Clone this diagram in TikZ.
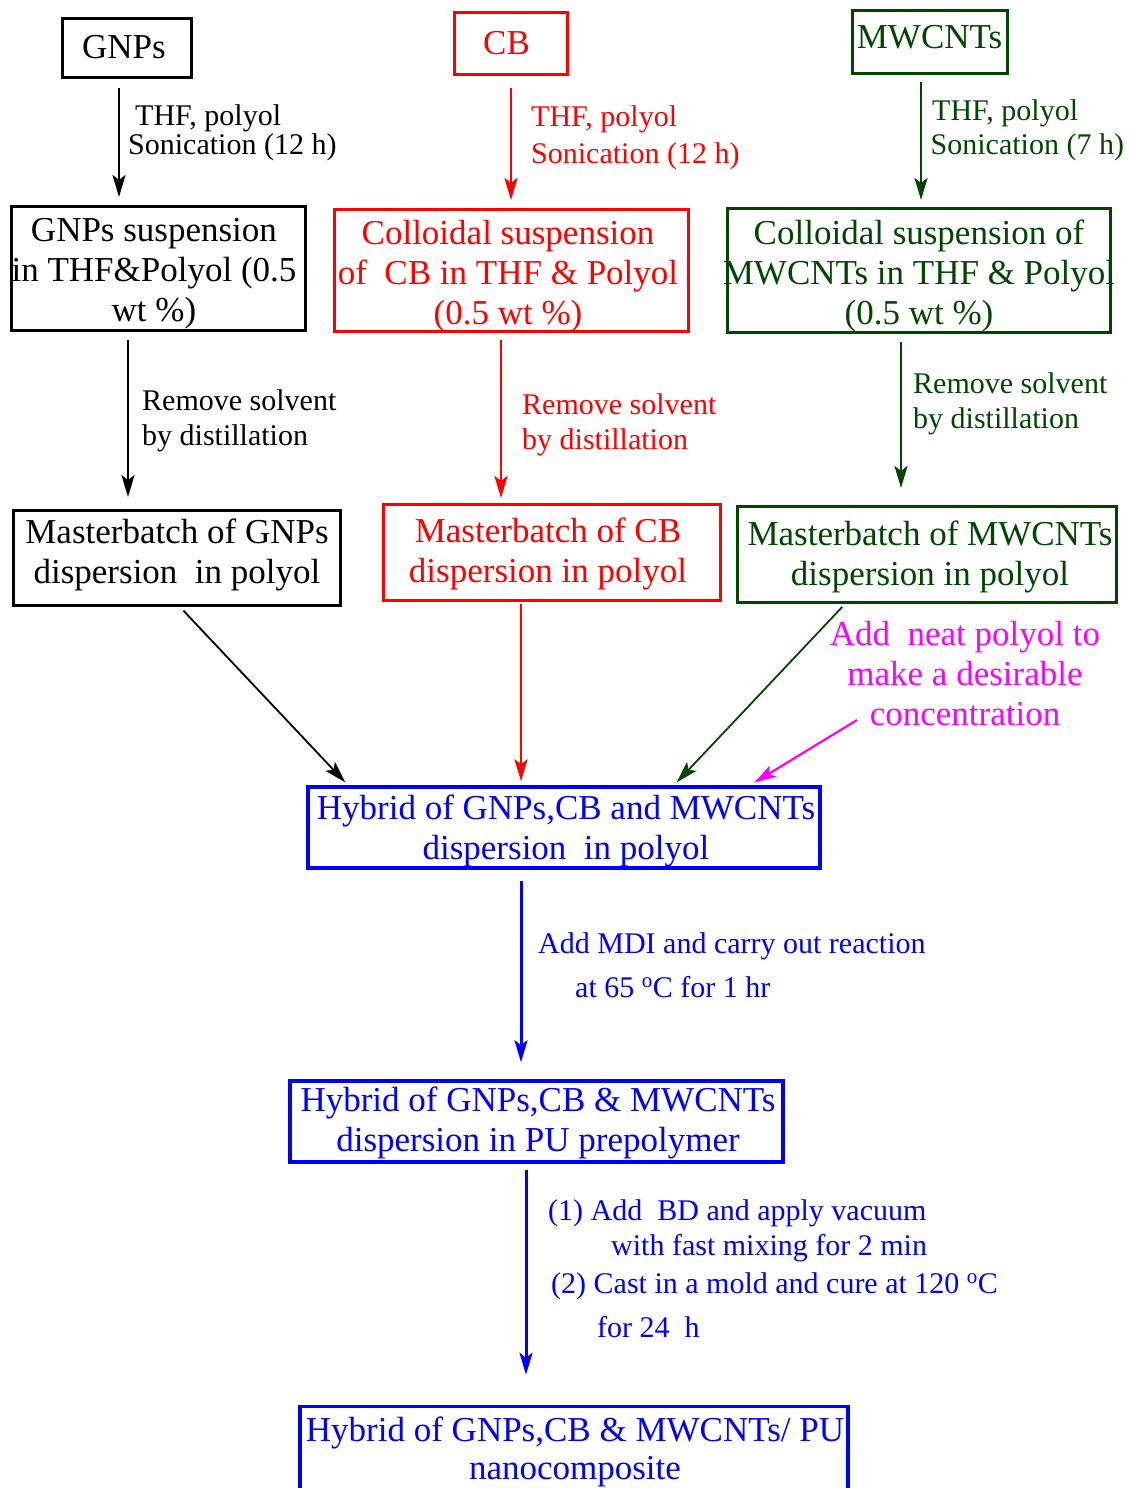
\documentclass[tikz,border=0pt]{standalone}
\usepackage{fontspec}
\setmainfont{Liberation Serif}
\usetikzlibrary{arrows.meta}
\definecolor{dgreen}{RGB}{0,70,0}
\definecolor{pmag}{RGB}{255,0,255}
\definecolor{pblue}{RGB}{0,0,255}
\definecolor{pred}{RGB}{255,0,0}
\begin{document}
\begin{tikzpicture}[x=1pt,y=-1pt,
  boxframe/.style={draw, line width=3pt, inner sep=0pt},
  bluebox/.style={boxframe, pblue, line width=3.5pt},
  boxtext/.style={inner sep=0pt, align=center, font=\fontsize{35}{40}\selectfont},
  lbl/.style={anchor=base west, inner sep=0pt, font=\fontsize{30}{35}\selectfont},
  arr/.style={-{Stealth[length=22pt,width=13pt,inset=5pt]}, line width=2.5pt},
  darr/.style={-{Stealth[length=22pt,width=13pt,inset=5pt]}, line width=1.8pt}]
\useasboundingbox (0,0) rectangle (1133,1488);
\clip (0,0) rectangle (1133,1488);

% ---- row 1
\node[boxframe, minimum width=129pt, minimum height=59pt] (gnp) at (127,48) {};
\node[boxtext] (gnpT) at (124,46.75) {GNPs};
\node[boxframe, pred, minimum width=113pt, minimum height=62pt] (cb) at (511,43.5) {};
\node[boxtext, pred] (cbT) at (506.5,43.5) {CB};
\node[boxframe, dgreen, minimum width=155pt, minimum height=63pt] (mw) at (930,42) {};
\node[boxtext, dgreen] (mwT) at (929.5,36.7) {MWCNTs};

% ---- row 2
\node[boxframe, minimum width=294pt, minimum height=124pt] (gsus) at (158.5,268.5) {};
\node[boxtext] (gsusT) at (154,274) {GNPs suspension\\in THF\&Polyol (0.5\\wt \%)};
\node[boxframe, pred, minimum width=354pt, minimum height=122pt] (csus) at (511.5,270.5) {};
\node[boxtext, pred] (csusT) at (508,276) {Colloidal suspension\\of\ \ CB in THF \& Polyol\\(0.5 wt \%)};
\node[boxframe, dgreen, minimum width=383pt, minimum height=124pt] (msus) at (919,270.5) {};
\node[boxtext, dgreen] (msusT) at (919,276) {Colloidal suspension of\\MWCNTs in THF \& Polyol\\(0.5 wt \%)};

% ---- row 3
\node[boxframe, minimum width=327pt, minimum height=95pt] (gmb) at (177,558) {};
\node[boxtext] (gmbT) at (177,555) {Masterbatch of GNPs\\dispersion\ \ in polyol};
\node[boxframe, pred, minimum width=337pt, minimum height=96pt] (cmb) at (552,552.5) {};
\node[boxtext, pred] (cmbT) at (548,554) {Masterbatch of CB\\dispersion in polyol};
\node[boxframe, dgreen, minimum width=379pt, minimum height=96pt] (mmb) at (927,554.5) {};
\node[boxtext, dgreen] (mmbT) at (930,557) {Masterbatch of MWCNTs\\dispersion in polyol};

\node[boxtext, pmag] (mtxt) at (965,674) {Add\ \ neat polyol to\\make a desirable\\concentration};

% ---- lower boxes
\node[bluebox, minimum width=512pt, minimum height=81pt] (hyb) at (564,827.5) {};
\node[boxtext, pblue] (hybT) at (566,830.5) {Hybrid of GNPs,CB and MWCNTs\\dispersion\ \ in polyol};
\node[bluebox, minimum width=493pt, minimum height=81pt] (pre) at (536.5,1121.5) {};
\node[boxtext, pblue] (preT) at (538,1122.5) {Hybrid of GNPs,CB \& MWCNTs\\dispersion in PU prepolymer};
\node[bluebox, minimum width=548pt, minimum height=114pt] (fin) at (574,1463.5) {};
\node[boxtext, pblue, font=\fontsize{35}{38}\selectfont] (finT) at (575,1452) {Hybrid of GNPs,CB \& MWCNTs/ PU\\nanocomposite};

% ---- connector columns
\coordinate (xa) at (119,0);
\coordinate (xb) at (511,0);
\coordinate (xc) at (921,0);
\coordinate (xd) at (128,0);
\coordinate (xe) at (501,0);
\coordinate (xf) at (901,0);
\coordinate (xg1) at (180,0);
\coordinate (xg2) at (348,0);
\coordinate (xh) at (521,0);
\coordinate (xi1) at (845,0);
\coordinate (xi2) at (674,0);
\coordinate (xj) at (750,0);
\coordinate (mstart) at (857,720);
\coordinate (xk) at (521,0);
\coordinate (xl) at (526,0);

% ---- connectors
\draw[arr, shorten <=9pt, shorten >=8pt] (gnp.south -| xa) -- (gsus.north -| xa);
\draw[arr, pred, line width=2.8pt, shorten <=12pt, shorten >=8pt] (cb.south -| xb) -- (csus.north -| xb);
\draw[arr, dgreen, line width=2.8pt, shorten <=7pt, shorten >=7pt] (mw.south -| xc) -- (msus.north -| xc);
\draw[arr, shorten <=8pt, shorten >=12pt] (gsus.south -| xd) -- (gmb.north -| xd);
\draw[arr, pred, line width=2.8pt, shorten <=7pt, shorten >=5pt] (csus.south -| xe) -- (cmb.north -| xe);
\draw[arr, dgreen, line width=2.8pt, shorten <=8pt, shorten >=17pt] (msus.south -| xf) -- (mmb.north -| xf);
\draw[darr, shorten <=5pt, shorten >=4pt] (gmb.south -| xg1) -- (hyb.north -| xg2);
\draw[arr, pred, line width=2.8pt, shorten <=2pt, shorten >=4pt] (cmb.south -| xh) -- (hyb.north -| xh);
\draw[darr, dgreen, shorten <=4pt, shorten >=4pt] (mmb.south -| xi1) -- (hyb.north -| xi2);
\draw[arr, pmag, line width=2.2pt, shorten >=5pt] (mstart) -- (hyb.north -| xj);
\draw[arr, pblue, line width=3pt, shorten <=11pt, shorten >=17pt] (hyb.south -| xk) -- (pre.north -| xk);
\draw[arr, pblue, line width=3pt, shorten <=6pt, shorten >=30pt] (pre.south -| xl) -- (fin.north -| xl);

% ---- labels
\node[lbl] (l1a) at (135,125) {THF, polyol};
\node[lbl] (l1b) at (128,154) {Sonication (12 h)};
\node[lbl, pred] (l2a) at (531,126) {THF, polyol};
\node[lbl, pred] (l2b) at (531,163) {Sonication (12 h)};
\node[lbl, dgreen] (l3a) at (932,120) {THF, polyol};
\node[lbl, dgreen] (l3b) at (930.5,154) {Sonication (7 h)};
\node[lbl] (l4a) at (142,410) {Remove solvent};
\node[lbl] (l4b) at (142,445) {by distillation};
\node[lbl, pred] (l5a) at (522,414) {Remove solvent};
\node[lbl, pred] (l5b) at (522,449) {by distillation};
\node[lbl, dgreen] (l6a) at (913,393) {Remove solvent};
\node[lbl, dgreen] (l6b) at (913,428) {by distillation};
\node[lbl, pblue] (l7a) at (538,953) {Add MDI and carry out reaction};
\node[lbl, pblue] (l7b) at (575,997) {at 65 \textsuperscript{o}C for 1 hr};
\node[lbl, pblue] (l8a) at (548,1220) {(1) Add\ \ BD and apply vacuum};
\node[lbl, pblue] (l8b) at (611,1255) {with fast mixing for 2 min};
\node[lbl, pblue] (l8c) at (551,1293) {(2) Cast in a mold and cure at 120 \textsuperscript{o}C};
\node[lbl, pblue] (l8d) at (597,1337) {for 24\ \ h};
\end{tikzpicture}
\end{document}
